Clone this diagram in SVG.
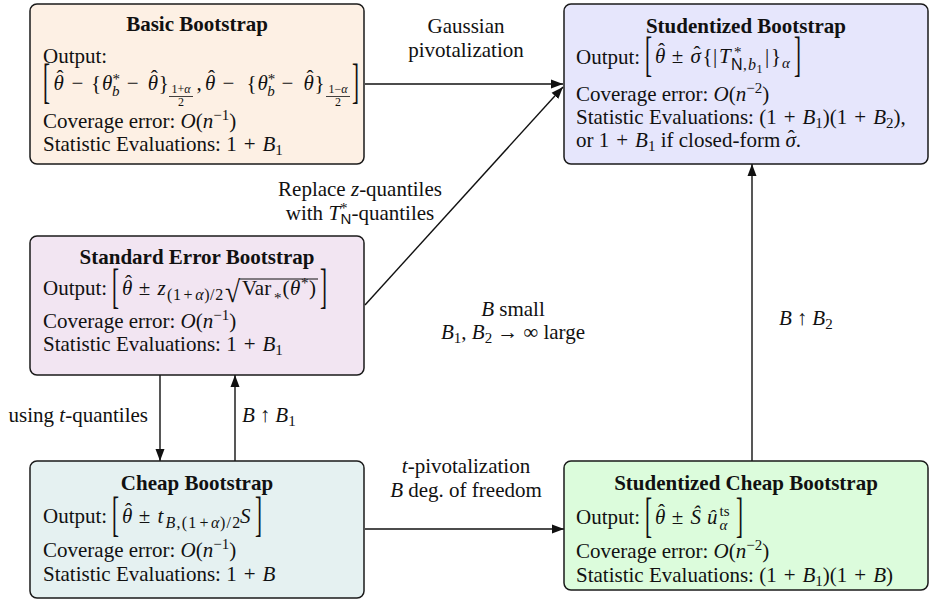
<svg xmlns="http://www.w3.org/2000/svg" width="933" height="601" viewBox="0 0 933 601">
<style>
text{font-family:"Liberation Serif","Times New Roman",serif;font-size:21px;fill:#111}
.h{font-weight:bold;text-anchor:middle}
.c{text-anchor:middle}
.e{text-anchor:end}
.i{font-style:italic}
.s{font-size:15px}
.q{font-size:16px;letter-spacing:0.6px}
.x{font-size:12px}
.sf{font-family:"Liberation Sans",Arial,sans-serif}
.box{stroke:#1a1a1a;stroke-width:1.5}
.ln{stroke:#111;stroke-width:1.4;fill:none}
.fb{stroke:#111;stroke-width:0.8}
</style>
<defs>
<marker id="ah" viewBox="0 0 12 10" refX="12" refY="5" markerWidth="12" markerHeight="10" markerUnits="userSpaceOnUse" orient="auto">
<path d="M0,0.5 L12,5 L0,9.5 Z" fill="#111"/>
</marker>
</defs>
<rect width="933" height="601" fill="#fff"/>

<g id="connectors">
<path class="ln" d="M365,84 H563" marker-end="url(#ah)"/>
<path class="ln" d="M365,305 L563,87" marker-end="url(#ah)"/>
<path class="ln" d="M752,461 V164" marker-end="url(#ah)"/>
<path class="ln" d="M160,375 V461" marker-end="url(#ah)"/>
<path class="ln" d="M235,461 V375" marker-end="url(#ah)"/>
<path class="ln" d="M365,529 H564" marker-end="url(#ah)"/>
<text class="c" x="466" y="33">Gaussian</text>
<text class="c" x="466" y="57">pivotalization</text>
<text class="c" x="360" y="196">Replace <tspan class="i">z</tspan>-quantiles</text>
<text class="c" x="360" y="220">with <tspan class="i">T</tspan><tspan class="s" dy="-7">*</tspan><tspan class="s sf" dx="-7" dy="11">N</tspan><tspan dy="-4">-quantiles</tspan></text>
<text class="c" x="513" y="316"><tspan class="i">B</tspan> small</text>
<text class="c" x="513" y="339"><tspan class="i">B</tspan><tspan class="s" dy="4">1</tspan><tspan dy="-4">, </tspan><tspan class="i">B</tspan><tspan class="s" dy="4">2</tspan><tspan dy="-4" dx="5">→</tspan><tspan dx="5">∞</tspan> large</text>
<text x="779" y="325"><tspan class="i">B</tspan><tspan dx="5">↑</tspan><tspan class="i" dx="5">B</tspan><tspan class="s" dy="4">2</tspan></text>
<text class="e" x="148" y="422">using <tspan class="i">t</tspan>-quantiles</text>
<text x="242" y="422"><tspan class="i">B</tspan><tspan dx="5">↑</tspan><tspan class="i" dx="5">B</tspan><tspan class="s" dy="4">1</tspan></text>
<text class="c" x="466" y="473"><tspan class="i">t</tspan>-pivotalization</text>
<text class="c" x="466" y="497"><tspan class="i">B</tspan> deg. of freedom</text>
</g>

<g id="basic">
<rect class="box" x="30" y="4" width="334" height="160" rx="7" fill="#fdf0e4"/>
<text class="h" x="197" y="31">Basic Bootstrap</text>
<text x="43" y="63">Output:</text>
<text transform="translate(43,97) scale(1,2.33)">[</text>
<text y="90">
<tspan class="i" x="53.5">θ</tspan>
<tspan x="71.4">−</tspan>
<tspan x="91">{</tspan>
<tspan class="i" x="102">θ</tspan>
<tspan class="s" x="112.5" y="84">*</tspan>
<tspan class="s i" x="112" y="96">b</tspan>
<tspan x="126.8" y="90">−</tspan>
<tspan class="i" x="147.7">θ</tspan>
<tspan x="158.8">}</tspan>
<tspan x="196.5">,</tspan>
<tspan class="i" x="205.1">θ</tspan>
<tspan x="222.6">−</tspan>
<tspan x="246.4">{</tspan>
<tspan class="i" x="257.4">θ</tspan>
<tspan class="s" x="267.7" y="84">*</tspan>
<tspan class="s i" x="267.2" y="96">b</tspan>
<tspan x="281.6" y="90">−</tspan>
<tspan class="i" x="303.5">θ</tspan>
<tspan x="314.5">}</tspan>
<tspan x="56.5" y="85">ˆ</tspan>
<tspan x="150.7">ˆ</tspan>
<tspan x="208.1">ˆ</tspan>
<tspan x="306.5">ˆ</tspan>
</text>
<text class="x c" x="181" y="93">1+<tspan class="i">α</tspan></text>
<line class="fb" x1="169" y1="96.5" x2="193" y2="96.5"/>
<text class="x c" x="181" y="106">2</text>
<text class="x c" x="338" y="93">1−<tspan class="i">α</tspan></text>
<line class="fb" x1="326" y1="96.5" x2="350" y2="96.5"/>
<text class="x c" x="338" y="106">2</text>
<text transform="translate(352,97) scale(1,2.33)">]</text>
<text x="43" y="128">Coverage error: <tspan class="i">O</tspan>(<tspan class="i">n</tspan><tspan class="s" dy="-8">−1</tspan><tspan dy="8">)</tspan></text>
<text x="43" y="151">Statistic Evaluations: 1<tspan dx="7">+</tspan><tspan class="i" dx="7">B</tspan><tspan class="s" dy="4">1</tspan></text>
</g>

<g id="studentized">
<rect class="box" x="564" y="4" width="364" height="160" rx="7" fill="#e6e6fc"/>
<text class="h" x="746" y="33">Studentized Bootstrap</text>
<text x="576" y="64">Output:</text>
<text transform="translate(645,70) scale(1,2.33)">[</text>
<text y="63">
<tspan class="i" x="655">θ</tspan>
<tspan x="671.8">±</tspan>
<tspan class="i" x="690.5">σ</tspan>
<tspan x="702.5">{</tspan>
<tspan x="713">|</tspan>
<tspan class="i" x="719">T</tspan>
<tspan class="s" x="734" y="57">*</tspan>
<tspan class="sf" x="731" y="70" style="font-size:16px">N</tspan>
<tspan class="s" x="743" y="70">,</tspan>
<tspan class="q i" x="748" y="70">b</tspan>
<tspan class="x" x="756.5" y="73">1</tspan>
<tspan x="765" y="63">|</tspan>
<tspan x="771">}</tspan>
<tspan class="s i" x="782" y="68">α</tspan>
<tspan x="658" y="58">ˆ</tspan>
<tspan x="693.5" y="61">ˆ</tspan>
</text>
<text transform="translate(794,70) scale(1,2.33)">]</text>
<text x="576" y="101">Coverage error: <tspan class="i">O</tspan>(<tspan class="i">n</tspan><tspan class="s" dy="-8">−2</tspan><tspan dy="8">)</tspan></text>
<text x="576" y="124">Statistic Evaluations: (1<tspan dx="7">+</tspan><tspan class="i" dx="7">B</tspan><tspan class="s" dy="4">1</tspan><tspan dy="-4">)(1</tspan><tspan dx="7">+</tspan><tspan class="i" dx="7">B</tspan><tspan class="s" dy="4">2</tspan><tspan dy="-4">),</tspan></text>
<text x="576" y="147">or 1<tspan dx="7">+</tspan><tspan class="i" dx="7">B</tspan><tspan class="s" dy="4">1</tspan><tspan dy="-4"> if closed-form </tspan><tspan class="i">σ</tspan><tspan dx="-8" dy="-2">ˆ</tspan><tspan dx="1" dy="2">.</tspan></text>
</g>

<g id="standard-error">
<rect class="box" x="30" y="236" width="334" height="139" rx="7" fill="#f2e5f2"/>
<text class="h" x="197" y="264">Standard Error Bootstrap</text>
<text x="43" y="295">Output:</text>
<text transform="translate(112,302) scale(1,2.33)">[</text>
<text y="295">
<tspan class="i" x="122">θ</tspan>
<tspan x="138.8">±</tspan>
<tspan class="i" x="157.5">z</tspan>
<tspan class="q" x="167" y="300">(1</tspan><tspan class="q" dx="2">+</tspan><tspan class="q i" dx="2">α</tspan><tspan class="q">)/2</tspan>
<tspan x="125" y="290">ˆ</tspan>
</text>
<text transform="translate(225,302) scale(1.3,1.45)">√</text>
<line class="fb" x1="239" y1="279" x2="318" y2="279" style="stroke-width:1"/>
<text y="295">
<tspan x="242">Var</tspan>
<tspan class="s" x="274" y="303">*</tspan>
<tspan x="282.5" y="295">(</tspan>
<tspan class="i" x="290">θ</tspan>
<tspan class="s" x="301" y="288">*</tspan>
<tspan x="309" y="295">)</tspan>
</text>
<text transform="translate(320,302) scale(1,2.33)">]</text>
<text x="43" y="328">Coverage error: <tspan class="i">O</tspan>(<tspan class="i">n</tspan><tspan class="s" dy="-8">−1</tspan><tspan dy="8">)</tspan></text>
<text x="43" y="351">Statistic Evaluations: 1<tspan dx="7">+</tspan><tspan class="i" dx="7">B</tspan><tspan class="s" dy="4">1</tspan></text>
</g>

<g id="cheap">
<rect class="box" x="30" y="461" width="334" height="137" rx="7" fill="#e5f1f1"/>
<text class="h" x="197" y="490">Cheap Bootstrap</text>
<text x="43" y="523">Output:</text>
<text transform="translate(112,530) scale(1,2.33)">[</text>
<text y="523">
<tspan class="i" x="122">θ</tspan>
<tspan x="138.8">±</tspan>
<tspan class="i" x="157.5">t</tspan>
<tspan class="q i" x="165.5" y="528" style="letter-spacing:1.2px">B</tspan><tspan class="q" style="letter-spacing:1.2px">,(1</tspan><tspan class="q" dx="2">+</tspan><tspan class="q i" dx="2">α</tspan><tspan class="q" style="letter-spacing:1.2px">)/2</tspan>
<tspan class="i" x="240" y="523">S</tspan>
<tspan x="125" y="518">ˆ</tspan>
</text>
<text transform="translate(255,530) scale(1,2.33)">]</text>
<text x="43" y="557">Coverage error: <tspan class="i">O</tspan>(<tspan class="i">n</tspan><tspan class="s" dy="-8">−1</tspan><tspan dy="8">)</tspan></text>
<text x="43" y="581">Statistic Evaluations: 1<tspan dx="7">+</tspan><tspan class="i" dx="7">B</tspan></text>
</g>

<g id="studentized-cheap">
<rect class="box" x="564" y="461" width="364" height="129" rx="7" fill="#dcfcdc"/>
<text class="h" x="746" y="490">Studentized Cheap Bootstrap</text>
<text x="576" y="524">Output:</text>
<text transform="translate(645,531) scale(1,2.33)">[</text>
<text y="524">
<tspan class="i" x="655">θ</tspan>
<tspan x="671.8">±</tspan>
<tspan class="i" x="690.5">Ŝ</tspan>
<tspan class="i" x="707">û</tspan>
<tspan class="s" x="719.5" y="516">ts</tspan>
<tspan class="s i" x="719.5" y="530">α</tspan>
<tspan x="658" y="519">ˆ</tspan>
</text>
<text transform="translate(736,531) scale(1,2.33)">]</text>
<text x="576" y="558">Coverage error: <tspan class="i">O</tspan>(<tspan class="i">n</tspan><tspan class="s" dy="-8">−2</tspan><tspan dy="8">)</tspan></text>
<text x="576" y="582">Statistic Evaluations: (1<tspan dx="7">+</tspan><tspan class="i" dx="7">B</tspan><tspan class="s" dy="4">1</tspan><tspan dy="-4">)(1</tspan><tspan dx="7">+</tspan><tspan class="i" dx="7">B</tspan>)</text>
</g>
</svg>
